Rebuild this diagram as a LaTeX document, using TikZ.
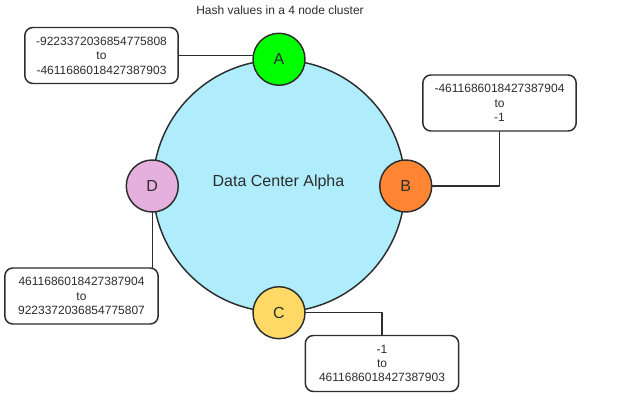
\documentclass[tikz,border=0pt]{standalone}
\usepackage{fontspec}
\setmainfont{Liberation Sans}
\usetikzlibrary{positioning}
\definecolor{ringblue}{RGB}{175,237,252}
\definecolor{nodeA}{RGB}{0,255,0}
\definecolor{nodeB}{RGB}{255,133,51}
\definecolor{nodeC}{RGB}{255,217,102}
\definecolor{nodeD}{RGB}{230,176,222}
\definecolor{ink}{RGB}{45,45,45}

\begin{document}
\begin{tikzpicture}[x=0.75pt,y=-0.75pt, line join=round, line cap=round,
	ring/.style={circle,draw=ink,line width=1.1pt,fill=ringblue,minimum size=189pt,inner sep=0pt,
		font=\fontsize{12}{14}\selectfont,text=ink},
	member/.style={circle,draw=ink,line width=1.1pt,minimum size=39pt,inner sep=0pt,
		font=\fontsize{12}{14}\selectfont,text=ink},
	rangebox/.style={rectangle,rounded corners=6pt,draw=ink,line width=1.1pt,fill=white,
		minimum width=115pt,minimum height=42pt,inner sep=2pt,align=center,
		font=\fontsize{9}{10.8}\selectfont,text=ink},
	link/.style={draw=ink,line width=1.1pt}]
	\useasboundingbox (0,0) rectangle (621,402);
	\node[font=\fontsize{9}{11}\selectfont,text=ink] (title) at (280,10) {Hash values in a 4 node cluster};
	% the data center and its four nodes
	\node[ring] (dc) at (279,186) {};
	\node[text=ink,font=\fontsize{12}{14}\selectfont] (dclabel) at (278.5,182) {Data Center Alpha};
	% token ranges
	\node[rangebox] (rangeA) at (101.5,55.5) {-9223372036854775808\\to\\-4611686018427387903};
	\node[rangebox] (rangeB) at (499.5,103) {-4611686018427387904\\to\\-1};
	\node[rangebox] (rangeC) at (382,363.5) {-1\\to\\4611686018427387903};
	\node[rangebox] (rangeD) at (81.5,296) {4611686018427387904\\to\\9223372036854775807};
	\node[member,fill=nodeA] (A) at (dc.north) {A};
	\node[member,fill=nodeB] (B) at (dc.east) {B};
	\node[member,fill=nodeC] (C) at (dc.south) {C};
	\node[member,fill=nodeD] (D) at (dc.west) {D};
	\draw[link] (rangeA.east) -- (rangeA.east -| A.west);
	\draw[link] (rangeB.south) |- (B.east);
	\draw[link] (C.east) -| (rangeC.north);
	\draw[link] (D.south) -- (D.south |- rangeD.north);
\end{tikzpicture}
\end{document}
